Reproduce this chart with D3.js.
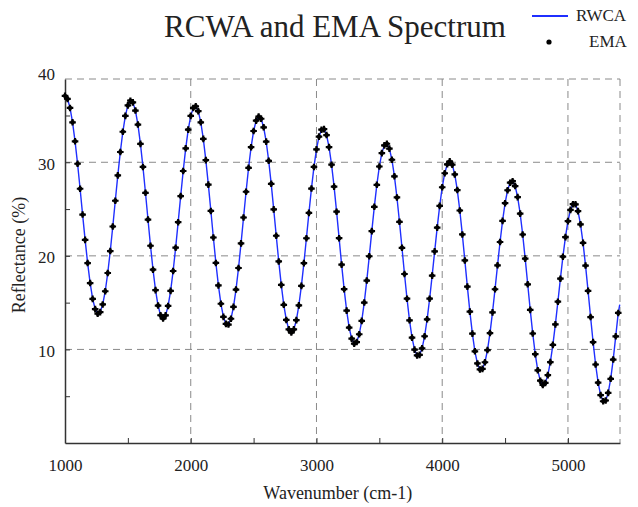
<!DOCTYPE html>
<html>
<head>
<meta charset="utf-8">
<script src="https://cdn.jsdelivr.net/npm/d3@7"></script>
<style>
  body { margin: 0; background: #fff; }
  text { font-family: "Liberation Serif", "Times New Roman", serif; fill: #222; }
</style>
</head>
<body>
<div id="chart"></div>
<script>
// wavenumber samples (cm-1), one dot every 20 cm-1
const wavenumber = [
  1000,1020,1040,1060,1080,1100,1120,1140,1160,1180,1200,1220,1240,1260,1280,1300,1320,1340,1360,1380,
  1400,1420,1440,1460,1480,1500,1520,1540,1560,1580,1600,1620,1640,1660,1680,1700,1720,1740,1760,1780,
  1800,1820,1840,1860,1880,1900,1920,1940,1960,1980,2000,2020,2040,2060,2080,2100,2120,2140,2160,2180,
  2200,2220,2240,2260,2280,2300,2320,2340,2360,2380,2400,2420,2440,2460,2480,2500,2520,2540,2560,2580,
  2600,2620,2640,2660,2680,2700,2720,2740,2760,2780,2800,2820,2840,2860,2880,2900,2920,2940,2960,2980,
  3000,3020,3040,3060,3080,3100,3120,3140,3160,3180,3200,3220,3240,3260,3280,3300,3320,3340,3360,3380,
  3400,3420,3440,3460,3480,3500,3520,3540,3560,3580,3600,3620,3640,3660,3680,3700,3720,3740,3760,3780,
  3800,3820,3840,3860,3880,3900,3920,3940,3960,3980,4000,4020,4040,4060,4080,4100,4120,4140,4160,4180,
  4200,4220,4240,4260,4280,4300,4320,4340,4360,4380,4400,4420,4440,4460,4480,4500,4520,4540,4560,4580,
  4600,4620,4640,4660,4680,4700,4720,4740,4760,4780,4800,4820,4840,4860,4880,4900,4920,4940,4960,4980,
  5000,5020,5040,5060,5080,5100,5120,5140,5160,5180,5200,5220,5240,5260,5280,5300,5320,5340,5360,5380,
  5400
];

// EMA reflectance (%) at those wavenumbers
const ema = [
  37.10,36.77,35.81,34.27,32.24,29.84,27.17,24.41,21.71,19.23,17.09,15.40,14.31,13.82,13.99,14.81,16.22,18.17,20.51,23.14,
  25.89,28.60,31.10,33.26,34.96,36.08,36.58,36.40,35.53,34.03,31.97,29.50,26.74,23.88,21.08,18.52,16.34,14.69,13.65,13.30,
  13.64,14.65,16.26,18.38,20.87,23.60,26.39,29.07,31.49,33.49,34.96,35.81,35.98,35.46,34.27,32.50,30.23,27.61,24.80,21.96,
  19.24,16.84,14.88,13.48,12.73,12.66,13.28,14.55,16.40,18.70,21.33,24.10,26.85,29.41,31.61,33.34,34.45,34.89,34.65,33.74,
  32.21,30.16,27.70,24.97,22.15,19.40,16.90,14.77,13.15,12.14,11.80,12.14,13.13,14.71,16.79,19.22,21.88,24.59,27.19,29.50,
  31.38,32.74,33.48,33.54,32.91,31.62,29.74,27.40,24.72,21.89,19.06,16.44,14.15,12.34,11.15,10.62,10.79,11.62,13.05,15.01,
  17.36,19.96,22.64,25.24,27.59,29.55,30.98,31.81,31.98,31.46,30.27,28.50,26.24,23.64,20.86,18.06,15.42,13.11,11.26,9.98,
  9.36,9.42,10.12,11.41,13.22,15.42,17.89,20.48,23.02,25.34,27.33,28.83,29.78,30.10,29.74,28.70,27.03,24.85,22.29,19.51,
  16.71,14.04,11.69,9.80,8.50,7.86,7.92,8.63,9.93,11.75,13.96,16.43,18.99,21.48,23.74,25.63,27.01,27.82,27.98,27.46,
  26.28,24.51,22.28,19.70,16.96,14.23,11.70,9.49,7.77,6.66,6.21,6.42,7.25,8.64,10.49,12.68,15.10,17.56,19.91,22.00,
  23.71,24.91,25.52,25.51,24.78,23.37,21.39,18.96,16.26,13.46,10.78,8.39,6.45,5.12,4.46,4.54,5.36,6.86,8.92,11.40,
  13.90
];

// RCWA curve: same samples plus the last bit of line past the final dot
const rcwaWavenumber = wavenumber.concat([5412]);
const rcwa = ema.concat([14.80]);

const xTicks = [1000, 1500, 2000, 2500, 3000, 3500, 4000, 4500, 5000];
const xLabels = [1000, 2000, 3000, 4000, 5000];
const yMinorTicks = [5, 10, 15, 20, 25, 30, 35];
const yLabels = [10, 20, 30, 40];

const W = 638, H = 507;
const margin = {top: 79, right: 18, bottom: 64, left: 65};
const width = W - margin.left - margin.right,
      height = H - margin.top - margin.bottom;

const svg = d3.select("#chart").append("svg")
    .attr("width", W).attr("height", H);

const g = svg.append("g")
    .attr("transform", `translate(${margin.left},${margin.top})`);

const x = d3.scaleLinear().domain([1000, 5414]).range([0, width]);
const y = d3.scaleLinear().domain([0, 38.9]).range([height, 0]);

// dashed grid + dashed top/right border
const dash = "7,5";
g.append("g").selectAll("line").data([2000, 3000, 4000, 5000, 5414]).join("line")
    .attr("x1", d => x(d)).attr("x2", d => x(d))
    .attr("y1", 0).attr("y2", height)
    .attr("stroke", "#8a8a8a").attr("stroke-dasharray", dash);
g.append("g").selectAll("line").data([10, 20, 30, 38.9]).join("line")
    .attr("x1", 0).attr("x2", width)
    .attr("y1", d => y(d)).attr("y2", d => y(d))
    .attr("stroke", "#8a8a8a").attr("stroke-dasharray", dash);

// bottom axis, ticks pointing in
const xAxis = g.append("g")
    .attr("transform", `translate(0,${height})`)
    .call(d3.axisBottom(x).tickValues(xTicks).tickSizeInner(-5).tickSizeOuter(0).tickFormat(""));
xAxis.select(".domain").attr("stroke", "#333").attr("stroke-width", 1.5);
xAxis.selectAll(".tick line").attr("stroke", "#333");

const xLab = g.append("g")
    .attr("transform", `translate(0,${height})`)
    .call(d3.axisBottom(x).tickValues(xLabels).tickSize(0).tickPadding(16).tickFormat(d3.format("d")));
xLab.select(".domain").remove();
xLab.selectAll("text").attr("font-size", 17).attr("fill", "#222")
    .attr("font-family", "Liberation Serif, serif");

// left axis
const yAxis = g.append("g")
    .call(d3.axisLeft(y).tickValues(yMinorTicks).tickSizeInner(-5).tickSizeOuter(0).tickFormat(""));
yAxis.select(".domain").attr("stroke", "#333").attr("stroke-width", 1.5);
yAxis.selectAll(".tick line").attr("stroke", "#333");

const yLab = g.append("g")
    .call(d3.axisLeft(y).tickValues(yLabels).tickSize(0).tickPadding(10).tickFormat(d3.format("d")));
yLab.select(".domain").remove();
yLab.selectAll("text").attr("font-size", 17).attr("fill", "#222")
    .attr("font-family", "Liberation Serif, serif")
    .attr("dy", d => d === 40 ? "0.62em" : "0.4em");

// RCWA line
g.append("path")
    .datum(rcwa.map((v, i) => [rcwaWavenumber[i], v]))
    .attr("fill", "none")
    .attr("stroke", "#1f2fff")
    .attr("stroke-width", 1.4)
    .attr("d", d3.line().x(d => x(d[0])).y(d => y(d[1])));

// EMA markers
const pts = g.append("g").selectAll("g")
    .data(ema.map((v, i) => [wavenumber[i], v]))
    .join("g")
    .attr("transform", d => `translate(${x(d[0])},${y(d[1])})`);
pts.append("circle").attr("r", 2.2).attr("fill", "#000");
pts.append("path").attr("d", d3.symbol(d3.symbolCross).size(24)).attr("fill", "#000");

// title
svg.append("text")
    .attr("x", 335).attr("y", 37)
    .attr("text-anchor", "middle")
    .attr("font-size", 31)
    .text("RCWA and EMA Spectrum");

// axis titles
svg.append("text")
    .attr("x", margin.left + x(3170)).attr("y", 499)
    .attr("text-anchor", "middle")
    .attr("font-size", 18)
    .text("Wavenumber (cm-1)");

svg.append("text")
    .attr("transform", "translate(25,255) rotate(-90)")
    .attr("text-anchor", "middle")
    .attr("font-size", 18)
    .text("Reflectance (%)");

// legend
const legend = svg.append("g");
legend.append("line")
    .attr("x1", 532).attr("x2", 568).attr("y1", 16).attr("y2", 16)
    .attr("stroke", "#1f2fff").attr("stroke-width", 2);
legend.append("text").attr("x", 576).attr("y", 21).attr("font-size", 17).text("RWCA");
legend.append("circle").attr("cx", 549).attr("cy", 42).attr("r", 2.6).attr("fill", "#000");
legend.append("text").attr("x", 589).attr("y", 47).attr("font-size", 17).text("EMA");
</script>
</body>
</html>
